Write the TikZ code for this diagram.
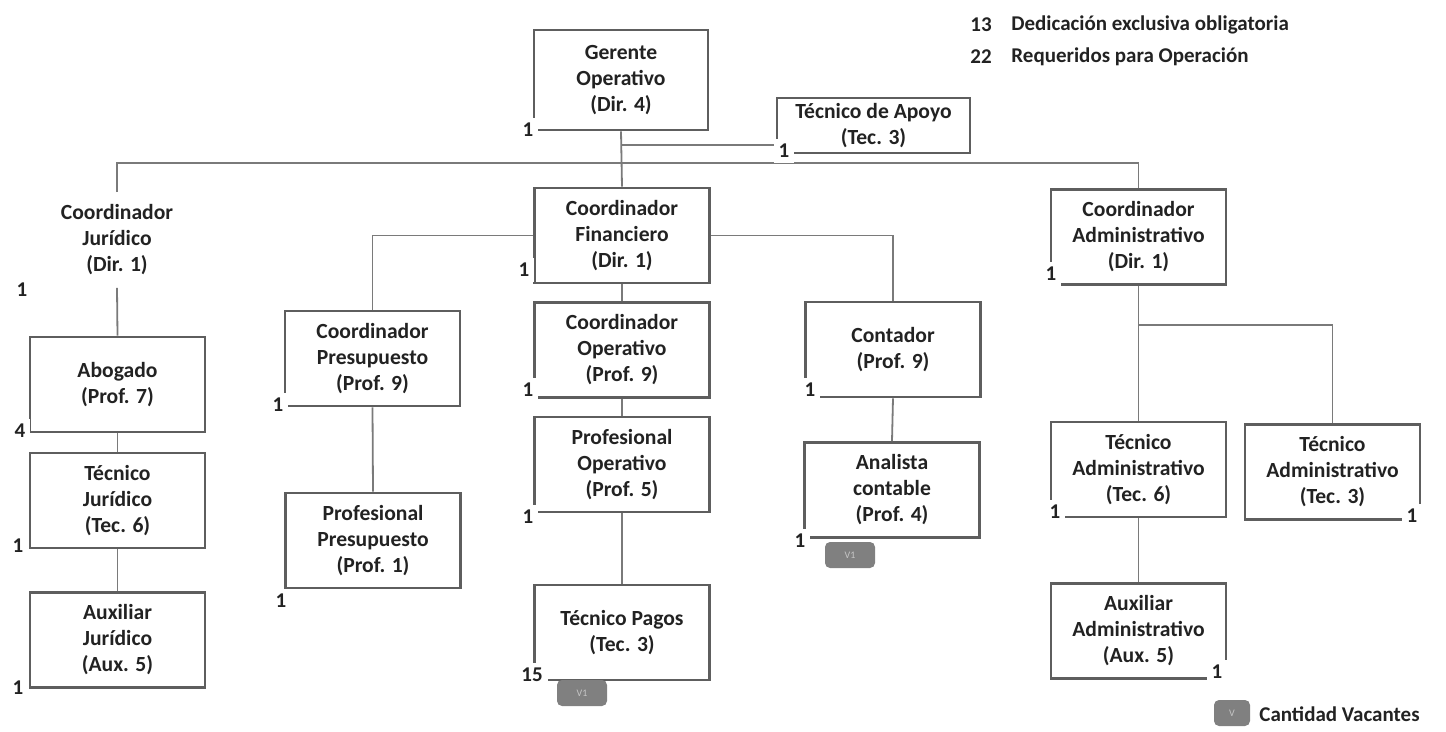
\documentclass[tikz,border=0pt]{standalone}
\usepackage{fontspec}
\setmainfont{Carlito}
\definecolor{boxline}{HTML}{5E5E5E}
\definecolor{conn}{HTML}{7A7A7A}
\definecolor{txt}{HTML}{222222}
\definecolor{badge}{HTML}{808080}
\begin{document}
\begin{tikzpicture}[x=0.5pt,y=-0.5pt,
  every node/.style={text=txt, font=\fontsize{10.8}{13}\selectfont\bfseries},
  orgbox/.style={draw=boxline, line width=1.3pt, fill=white, align=center, minimum width=87.5pt, minimum height=47.5pt, inner sep=1pt},
  plainbox/.style={align=center, minimum width=87.5pt, minimum height=47.5pt, inner sep=1pt},
  num/.style={fill=white, inner sep=2.5pt, font=\fontsize{10.5}{12}\selectfont\bfseries},
  link/.style={draw=conn, line width=0.9pt},
  vbadge/.style={fill=badge, rounded corners=2.5pt, minimum width=25pt, minimum height=13pt, inner sep=0pt, text=gray!45, font=\fontsize{5}{6}\selectfont},
  legtext/.style={anchor=west, inner sep=0pt, font=\fontsize{10.5}{12}\selectfont\bfseries}
]
\useasboundingbox (0,0) rectangle (1446,732);

% ---- legend top
\node[legtext, anchor=center] (n13) at (981,25) {13};
\node[legtext] (l13) at (1011,25) {Dedicación exclusiva obligatoria};
\node[legtext, anchor=center] (n22) at (981,57) {22};
\node[legtext] (l22) at (1011,57) {Requeridos para Operación};

% ---- boxes
\node[orgbox, minimum width=87pt, minimum height=50pt] (ger) at (621,80) {Gerente\\Operativo\\(Dir. 4)};
\node[orgbox, minimum width=96.5pt, minimum height=27.5pt] (tap) at (873.5,125.5) {Técnico de Apoyo\\(Tec. 3)};

\node[plainbox] (cj) at (117,240) {Coordinador\\Jurídico\\(Dir. 1)};
\node[orgbox] (abo) at (117.5,384.5) {Abogado\\(Prof. 7)};
\node[orgbox] (tj) at (117.5,500.5) {Técnico\\Jurídico\\(Tec. 6)};
\node[orgbox] (aj) at (117.5,640) {Auxiliar\\Jurídico\\(Aux. 5)};

\node[orgbox] (cf) at (622,235.5) {Coordinador\\Financiero\\(Dir. 1)};
\node[orgbox] (cp) at (372.5,358.5) {Coordinador\\Presupuesto\\(Prof. 9)};
\node[orgbox] (pp) at (373,540.5) {Profesional\\Presupuesto\\(Prof. 1)};
\node[orgbox] (co) at (622,350) {Coordinador\\Operativo\\(Prof. 9)};
\node[orgbox] (po) at (622,464.5) {Profesional\\Operativo\\(Prof. 5)};
\node[orgbox] (tp) at (622,632.5) {Técnico Pagos\\(Tec. 3)};
\node[orgbox] (cont) at (893,349.5) {Contador\\(Prof. 9)};
\node[orgbox] (ana) at (892,490) {Analista\\contable\\(Prof. 4)};

\node[orgbox] (ca) at (1138.5,237) {Coordinador\\Administrativo\\(Dir. 1)};
\node[orgbox] (ta6) at (1138.5,469.5) {Técnico\\Administrativo\\(Tec. 6)};
\node[orgbox] (ta3) at (1332.5,472) {Técnico\\Administrativo\\(Tec. 3)};
\node[orgbox] (aa) at (1138.5,631) {Auxiliar\\Administrativo\\(Aux. 5)};

% ---- connectors
\coordinate (j1) at (621,145);
\coordinate (barL) at (117,163);
\coordinate (barM) at (621,163);
\coordinate (barR) at (1138.5,163);
\coordinate (adm) at (1138.5,325);
\begin{scope}[on background layer/.style={}]
\end{scope}
\draw[link] (ger.south) -- (cf.north);
\draw[link] (j1) -- (j1 -| tap.west);
\draw[link] (cj.north) -- (barL) -- (barR) -- (ca.north);
\draw[link] (cj.south) -- (abo.north);
\draw[link] (abo.south) -- (tj.north);
\draw[link] (tj.south) -- (aj.north);
\draw[link] (cf.west) -| (cp.north);
\draw[link] (cp.south) -- (pp.north);
\draw[link] (cf.south) -- (co.north);
\draw[link] (co.south) -- (po.north);
\draw[link] (po.south) -- (tp.north);
\draw[link] (cf.east) -| (cont.north);
\draw[link] (cont.south) -- (ana.north);
\draw[link] (ca.south) -- (ta6.north);
\draw[link] (adm) -| (ta3.north);
\draw[link] (ta6.south) -- (aa.north);

% ---- quantity labels
\node[num] (qger) at (528,130) {1};
\node[num] (qtap) at (784,151) {1};
\node[num] (qcj) at (22,290) {1};
\node[num] (qabo) at (20,431) {4};
\node[num] (qtj) at (18,546) {1};
\node[num] (qaj) at (18,688) {1};
\node[num] (qcf) at (524,270) {1};
\node[num] (qcp) at (278,405) {1};
\node[num] (qpp) at (281,601) {1};
\node[num] (qco) at (528,390) {1};
\node[num] (qpo) at (528,517) {1};
\node[num] (qtp) at (532,675) {15};
\node[num] (qcont) at (810,390) {1};
\node[num] (qana) at (800,541) {1};
\node[num] (qca) at (1051,274) {1};
\node[num] (qta6) at (1055,512) {1};
\node[num] (qta3) at (1412,516) {1};
\node[num] (qaa) at (1217,672) {1};

% ---- vacancy badges
\node[vbadge] (vtp) at (582,693) {V1};
\node[vbadge] (vana) at (850,555) {V1};
\node[vbadge, minimum width=18pt] (vleg) at (1232,713) {V};
\node[legtext] (lleg) at (1259,714) {Cantidad Vacantes};
\end{tikzpicture}
\end{document}
